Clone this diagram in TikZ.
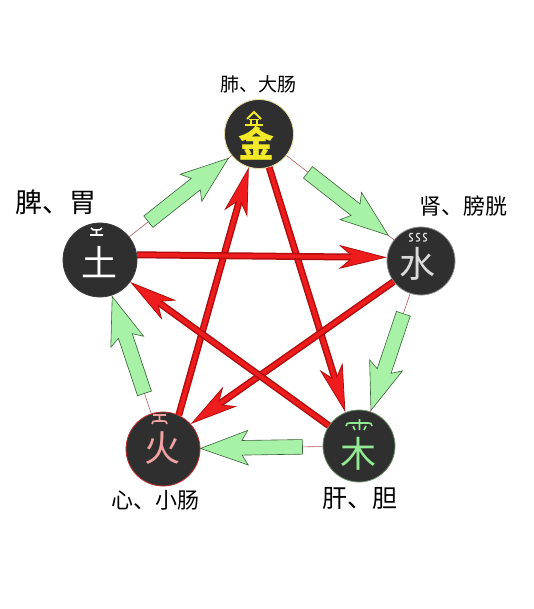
\documentclass[tikz,border=0pt]{standalone}
\usepackage{fontspec}
\setmainfont{Noto Sans CJK SC}
\usetikzlibrary{arrows.meta,shapes.arrows}

\definecolor{kered}{HTML}{EE1C1C}
\definecolor{kedark}{HTML}{B00E0E}
\definecolor{shengfill}{HTML}{A8F2A8}
\definecolor{shengdraw}{HTML}{3A643A}
\definecolor{linkred}{HTML}{B85A5A}
\definecolor{orbfill}{HTML}{2F2F2F}
\definecolor{jincol}{HTML}{F2EA28}
\definecolor{shuicol}{HTML}{DADADA}
\definecolor{mucol}{HTML}{92EA92}
\definecolor{huocol}{HTML}{F2A2A2}
\definecolor{tucol}{HTML}{FFFFFF}
\definecolor{jinrim}{HTML}{E6E0A0}
\definecolor{shuirim}{HTML}{8C8C8C}
\definecolor{murim}{HTML}{6E8E6E}
\definecolor{huorim}{HTML}{C43030}
\definecolor{turim}{HTML}{3C3C3C}

\tikzset{
  orb/.style={circle, fill=orbfill, draw=#1, line width=0.8pt, inner sep=0pt},
  glyph/.style={font=\fontsize{36}{36}\selectfont, inner sep=0pt},
  organ/.style={font=\fontsize{#1}{#1}\selectfont, inner sep=0pt},
  link/.style={draw=linkred, line width=0.6pt},
  sheng/.style={single arrow, draw=shengdraw, fill=shengfill, line width=0.6pt,
    inner xsep=0pt, inner ysep=7pt, minimum height=102pt, minimum width=34pt,
    single arrow head extend=10pt, single arrow tip angle=40, single arrow head indent=6pt,
    sloped, allow upside down},
  ke/.style={draw=kedark, line width=7pt,
    -{Stealth[length=48pt, width=24pt, inset=14pt, line width=0.8pt 0, fill=kered]},
    postaction={draw=kered, line width=4pt, -, shorten >=30pt}},
}

\begin{document}
\begin{tikzpicture}[x=1pt,y=-1pt]
\fill[white] (0,0) rectangle (534,609);
\useasboundingbox (0,0) rectangle (534,609);

\node[orb=jinrim, minimum size=69pt] (jin) at (259,134) {};
\node[orb=shuirim, minimum size=68pt] (shui) at (421,261) {};
\node[orb=murim, minimum size=72pt] (mu) at (359,446) {};
\node[orb=huorim, minimum size=74pt] (huo) at (163,449) {};
\node[orb=turim, minimum size=74pt] (tu) at (100,260) {};

\node[glyph, text=jincol, font=\fontsize{36}{36}\selectfont\bfseries] (jinchar) at (256,143) {金};
\node[glyph, text=shuicol] (shuichar) at (417,264) {水};
\node[glyph, text=mucol] (muchar) at (358,454) {木};
\node[glyph, text=huocol] (huochar) at (162,448) {火};
\node[glyph, text=tucol] (tuchar) at (99,262) {土};

\draw[jincol, line width=1.8pt] (247,119) -- (254,112) -- (261,119);
\draw[jincol, line width=1.6pt] (249,119.5) -- (259,119.5) (251,119.5) -- (251,124)
  (257,119.5) -- (257,124) (245,125) -- (263,125);
\foreach \sx in {409,416,423}
  \draw[shuicol, line width=1.2pt] (\sx+4,233.5) .. controls (\sx,232) and (\sx-0.5,236.5) .. (\sx+2,237.5)
    .. controls (\sx+4.5,238.5) and (\sx+4,242) .. (\sx,241);
\draw[mucol, line width=1.6pt] (346,426) .. controls (347,423) .. (350,423) -- (368,423)
  .. controls (371,423) .. (372,426) (359.5,419) -- (359.5,430) (353,426) -- (355,430) (366,426) -- (364,430);
\draw[huocol, line width=1.6pt] (153,415) -- (166,415) (159.5,415) -- (159.5,421)
  (152,424) .. controls (153,421) .. (156,421) -- (163,421) .. controls (166,421) .. (167,424);
\draw[tucol, line width=1.6pt] (91,228) .. controls (93,230) .. (96.5,230) .. controls (100,230) .. (102,228)
  (96.5,230) -- (96.5,234.5) (90,235) -- (103,235);

\node[organ=19] (jinorgan) at (258,84) {肺、大肠};
\node[organ=22] (shuiorgan) at (463,206) {肾、膀胱};
\node[organ=25] (muorgan) at (360,498) {肝、胆};
\node[organ=22] (huoorgan) at (155,500) {心、小肠};
\node[organ=27] (tuorgan) at (56,202) {脾、胃};

\draw[link] (jin) -- node[sheng] (jinshui) {} (shui);
\draw[link] (shui) -- node[sheng] (shuimu) {} (mu);
\draw[link] (mu) -- node[sheng] (muhuo) {} (huo);
\draw[link] (huo) -- node[sheng] (huotu) {} (tu);
\draw[link] (tu) -- node[sheng] (tujin) {} (jin);

\draw[ke] (jin.-73) -- (mu.112);
\draw[ke] (huo.65) -- (jin.-107);
\draw[ke] (tu.8) -- (shui.174);
\draw[ke] (shui.217) -- (huo.42);
\draw[ke] (mu.146) -- (tu.-36);
\end{tikzpicture}
\end{document}
